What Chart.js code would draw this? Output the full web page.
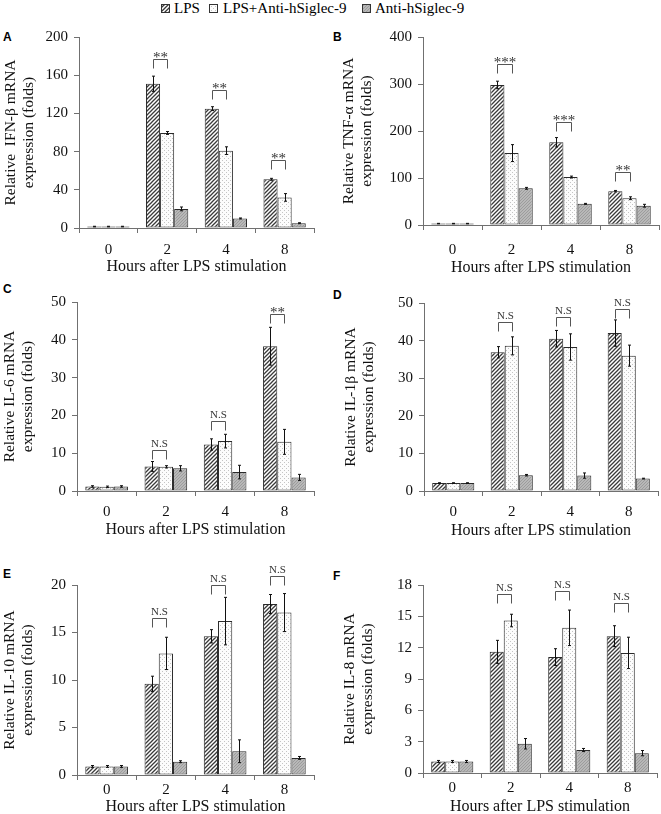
<!DOCTYPE html>
<html><head><meta charset="utf-8">
<script src="https://cdn.jsdelivr.net/npm/chart.js@4/dist/chart.umd.min.js"></script>
<style>
html,body{margin:0;padding:0;background:#fff;overflow:hidden;width:661px;height:814px;position:relative;}
canvas.cv{position:absolute;}
.plabel{position:absolute;font:bold 12px "Liberation Sans",Arial,sans-serif;color:#000;line-height:12px;}
.leg{position:absolute;top:0;height:16px;font:15px "Liberation Serif","Times New Roman",serif;line-height:16px;color:#000;white-space:nowrap;}
canvas.sw{position:absolute;top:4px;}
</style></head><body>
<canvas class="sw" id="sw0" width="9" height="9" style="left:161px"></canvas>
<div class="leg" id="lg0" style="left:174px">LPS</div>
<canvas class="sw" id="sw1" width="9" height="9" style="left:209px"></canvas>
<div class="leg" id="lg1" style="left:223px">LPS+Anti-hSiglec-9</div>
<canvas class="sw" id="sw2" width="9" height="9" style="left:362px"></canvas>
<div class="leg" id="lg2" style="left:375px">Anti-hSiglec-9</div>
<div class="plabel" style="left:3px;top:31px">A</div>
<div class="plabel" style="left:333px;top:31px">B</div>
<div class="plabel" style="left:3px;top:283px">C</div>
<div class="plabel" style="left:333px;top:289px">D</div>
<div class="plabel" style="left:3px;top:568px">E</div>
<div class="plabel" style="left:333px;top:570px">F</div>
<script>
// ---------- data ----------
const hours = ['0', '2', '4', '8'];
const seriesNames = ['LPS', 'LPS+Anti-hSiglec-9', 'Anti-hSiglec-9'];
const xTitle = 'Hours after LPS stimulation';

// A: IFN-β
const ifnLPS = [1.5, 151, 125, 51];
const ifnLPSAnti = [1.5, 99.5, 81, 32];
const ifnAnti = [1.5, 20, 10, 5];
const ifnErrLPS = [0.3, 8, 2, 1];
const ifnErrLPSAnti = [0.3, 1.5, 4, 4];
const ifnErrAnti = [0.3, 2, 0.5, 0.5];
const ifnSigLabel = ['', '**', '**', '**'];
const ifnSigY = [null, 177, 145, 71];

// B: TNF-α
const tnfLPS = [3, 298, 176, 72];
const tnfLPSAnti = [3, 153, 102, 57];
const tnfAnti = [3, 78, 45, 41];
const tnfErrLPS = [0.5, 8, 10, 1.5];
const tnfErrLPSAnti = [0.5, 18, 2, 3];
const tnfErrAnti = [0.5, 2, 1, 3];
const tnfSigLabel = ['', '***', '***', '**'];
const tnfSigY = [null, 342, 219, 112];

// C: IL-6
const il6LPS = [1.2, 6.5, 12.3, 38.3];
const il6LPSAnti = [1.1, 6.4, 13.2, 13.0];
const il6Anti = [1.2, 6.0, 5.0, 3.6];
const il6ErrLPS = [0.2, 1.3, 1.5, 5.0];
const il6ErrLPSAnti = [0.2, 0.3, 1.8, 3.3];
const il6ErrAnti = [0.2, 0.7, 1.8, 0.8];
const il6SigLabel = ['', 'N.S', 'N.S', '**'];
const il6SigY = [null, 10.8, 18.6, 46.7];

// D: IL-1β
const il1LPS = [2.1, 36.9, 40.5, 42.0];
const il1LPSAnti = [2.1, 38.6, 38.3, 36.0];
const il1Anti = [2.1, 4.2, 4.1, 3.3];
const il1ErrLPS = [0.1, 1.5, 2.2, 3.5];
const il1ErrLPSAnti = [0.1, 2.4, 3.5, 2.8];
const il1ErrAnti = [0.1, 0.2, 0.7, 0.1];
const il1SigLabel = ['', 'N.S', 'N.S', 'N.S'];
const il1SigY = [null, 45.0, 46.4, 48.3];

// E: IL-10
const il10LPS = [0.9, 9.6, 14.6, 18.0];
const il10LPSAnti = [0.9, 12.8, 16.2, 17.1];
const il10Anti = [0.9, 1.4, 2.5, 1.8];
const il10ErrLPS = [0.1, 0.8, 0.7, 1.0];
const il10ErrLPSAnti = [0.1, 1.7, 2.5, 2.0];
const il10ErrAnti = [0.1, 0.1, 1.2, 0.15];
const il10SigLabel = ['', 'N.S', 'N.S', 'N.S'];
const il10SigY = [null, 16.5, 20.0, 20.9];

// F: IL-8
const il8LPS = [1.1, 11.6, 11.1, 13.1];
const il8LPSAnti = [1.1, 14.6, 13.9, 11.5];
const il8Anti = [1.1, 2.8, 2.2, 1.9];
const il8ErrLPS = [0.1, 1.1, 0.8, 1.0];
const il8ErrLPSAnti = [0.1, 0.6, 1.7, 1.5];
const il8ErrAnti = [0.1, 0.5, 0.15, 0.25];
const il8SigLabel = ['', 'N.S', 'N.S', 'N.S'];
const il8SigY = [null, 17.1, 17.4, 16.3];

// ---------- patterns ----------
function tile(size, draw) {
  const c = document.createElement('canvas');
  c.width = size; c.height = size;
  const g = c.getContext('2d');
  draw(g, size);
  return c;
}
const hatchTile = tile(4, (g, s) => {
  g.fillStyle = '#ffffff'; g.fillRect(0, 0, s, s);
  g.strokeStyle = '#3a3a3a'; g.lineWidth = 1.3;
  g.beginPath();
  g.moveTo(0, s); g.lineTo(s, 0);
  g.moveTo(-1, 1); g.lineTo(1, -1);
  g.moveTo(s - 1, s + 1); g.lineTo(s + 1, s - 1);
  g.stroke();
});
const dotTile = tile(4, (g, s) => {
  g.fillStyle = '#fcfcfc'; g.fillRect(0, 0, s, s);
  g.fillStyle = '#c4c4c4';
  g.fillRect(0, 0, 1, 1); g.fillRect(2, 2, 1, 1);
});
const grayTile = tile(3, (g, s) => {
  g.fillStyle = '#b8b8b8'; g.fillRect(0, 0, s, s);
  g.fillStyle = '#9c9c9c';
  g.fillRect(0, 2, 1, 1); g.fillRect(1, 1, 1, 1); g.fillRect(2, 0, 1, 1);
});
function pats(ctx) {
  return [ctx.createPattern(hatchTile, 'repeat'), ctx.createPattern(dotTile, 'repeat'), ctx.createPattern(grayTile, 'repeat')];
}

// legend swatches
['sw0', 'sw1', 'sw2'].forEach((id, i) => {
  const c = document.getElementById(id); const g = c.getContext('2d');
  g.fillStyle = pats(g)[i]; g.fillRect(0, 0, 9, 9);
  g.strokeStyle = '#333'; g.lineWidth = 1; g.strokeRect(0.5, 0.5, 8, 8);
});

// ---------- plugin: error bars + significance brackets ----------
const errSigPlugin = {
  id: 'errSig',
  afterDatasetsDraw(chart) {
    const ctx = chart.ctx; const ys = chart.scales.y;
    ctx.save();
    ctx.strokeStyle = '#111'; ctx.lineWidth = 1;
    chart.data.datasets.forEach((ds, i) => {
      const meta = chart.getDatasetMeta(i);
      meta.data.forEach((bar, j) => {
        const v = ds.data[j], e = ds.errors[j];
        const x = Math.round(bar.x) + 0.5;
        const y1 = ys.getPixelForValue(v + e), y2 = ys.getPixelForValue(v - e);
        ctx.beginPath();
        ctx.moveTo(x, y1); ctx.lineTo(x, y2);
        ctx.moveTo(x - 1.5, y1); ctx.lineTo(x + 1.5, y1);
        ctx.moveTo(x - 1.5, y2); ctx.lineTo(x + 1.5, y2);
        ctx.stroke();
      });
    });
    const sig = chart.options.plugins.errSig;
    const m0 = chart.getDatasetMeta(0), m1 = chart.getDatasetMeta(1);
    ctx.strokeStyle = '#555';
    sig.labels.forEach((lab, j) => {
      if (!lab) return;
      const xa = Math.round(m0.data[j].x) + 0.5, xb = Math.round(m1.data[j].x) + 0.5;
      const yt = Math.round(ys.getPixelForValue(sig.y[j])) + 0.5;
      ctx.beginPath();
      ctx.moveTo(xa, yt + 9); ctx.lineTo(xa, yt); ctx.lineTo(xb, yt); ctx.lineTo(xb, yt + 9);
      ctx.stroke();
      const star = lab.indexOf('*') >= 0;
      ctx.fillStyle = '#333';
      ctx.font = star ? '15px "Liberation Serif"' : '11px "Liberation Serif"';
      ctx.textAlign = 'center'; ctx.textBaseline = 'alphabetic';
      ctx.fillText(lab, (xa + xb) / 2, star ? yt + 2 : yt - 4);
    });
    ctx.restore();
  }
};

Chart.defaults.font.family = '"Liberation Serif", "Times New Roman", serif';
Chart.defaults.color = '#111';

const panels = [
  { v: [ifnLPS, ifnLPSAnti, ifnAnti], e: [ifnErrLPS, ifnErrLPSAnti, ifnErrAnti], sl: ifnSigLabel, sy: ifnSigY,
    yt: ['Relative  IFN-\u03b2 mRNA', 'expression (folds)'], max: 200, step: 40,
    cv: [0, 22, 330, 258], area: [79, 35.5, 314, 228], ytx: 11, lab: 250, tit: 267 },
  { v: [tnfLPS, tnfLPSAnti, tnfAnti], e: [tnfErrLPS, tnfErrLPSAnti, tnfErrAnti], sl: tnfSigLabel, sy: tnfSigY,
    yt: ['Relative TNF-\u03b1 mRNA', 'expression (folds)'], max: 400, step: 100,
    cv: [330, 22, 331, 258], area: [423, 37, 659, 225], ytx: 349, lab: 250, tit: 267.5 },
  { v: [il6LPS, il6LPSAnti, il6Anti], e: [il6ErrLPS, il6ErrLPSAnti, il6ErrAnti], sl: il6SigLabel, sy: il6SigY,
    yt: ['Relative IL-6 mRNA', 'expression (folds)'], max: 50, step: 10,
    cv: [0, 282, 330, 260], area: [77, 302, 314, 491], ytx: 9.5, lab: 512, tit: 530 },
  { v: [il1LPS, il1LPSAnti, il1Anti], e: [il1ErrLPS, il1ErrLPSAnti, il1ErrAnti], sl: il1SigLabel, sy: il1SigY,
    yt: ['Relative IL-1\u03b2 mRNA', 'expression (folds)'], max: 50, step: 10,
    cv: [330, 282, 331, 260], area: [424, 303, 658, 491], ytx: 351, lab: 512.5, tit: 531 },
  { v: [il10LPS, il10LPSAnti, il10Anti], e: [il10ErrLPS, il10ErrLPSAnti, il10ErrAnti], sl: il10SigLabel, sy: il10SigY,
    yt: ['Relative IL-10 mRNA', 'expression (folds)'], max: 20, step: 5,
    cv: [0, 545, 330, 274], area: [77, 585, 314, 775], ytx: 9.5, lab: 790, tit: 807 },
  { v: [il8LPS, il8LPSAnti, il8Anti], e: [il8ErrLPS, il8ErrLPSAnti, il8ErrAnti], sl: il8SigLabel, sy: il8SigY,
    yt: ['Relative IL-8 mRNA', 'expression (folds)'], max: 18, step: 3,
    cv: [330, 545, 331, 274], area: [423, 585, 657, 773], ytx: 350, lab: 788, tit: 807 }
];

const TICK_FS = 15, TICK_LH = 18, TITLE_FS = 16, TITLE_LH = 18.4, YTITLE_FS = 15.5;
const axisColor = '#707070';

panels.forEach((p) => {
  const [cx, cy, cw, ch] = p.cv;
  const [l, t, r, b] = p.area;
  const c = document.createElement('canvas');
  c.className = 'cv'; c.width = cw; c.height = ch;
  c.style.left = cx + 'px'; c.style.top = cy + 'px';
  c.style.width = cw + 'px'; c.style.height = ch + 'px';
  document.body.appendChild(c);
  const ctx = c.getContext('2d');
  const fills = pats(ctx);
  const yWidth = l - cx;
  const xHeight = (cy + ch) - b;
  const labPad = p.lab - b - 5 - TICK_LH / 2;
  const titPadB = (cy + ch) - p.tit - TITLE_LH / 2;
  const ytPad = p.ytx - cx - TITLE_LH / 2;
  new Chart(ctx, {
    type: 'bar',
    data: {
      labels: hours,
      datasets: seriesNames.map((n, i) => ({
        label: n, data: p.v[i], errors: p.e[i],
        backgroundColor: fills[i], borderColor: '#2a2a2a', borderWidth: 1, borderSkipped: false,
        categoryPercentage: 0.72, barPercentage: 1.0
      }))
    },
    options: {
      responsive: false, animation: false, devicePixelRatio: 1,
      layout: { padding: { left: 0, top: t - cy, right: (cx + cw) - r, bottom: 0 } },
      plugins: {
        legend: { display: false }, tooltip: { enabled: false },
        errSig: { labels: p.sl, y: p.sy }
      },
      scales: {
        x: {
          type: 'category', offset: true,
          grid: { display: true, offset: true, drawOnChartArea: false, drawTicks: true, tickLength: 5, color: axisColor },
          border: { display: true, color: axisColor, width: 1 },
          ticks: { font: { size: TICK_FS, lineHeight: TICK_LH / TICK_FS }, padding: labPad, color: '#111', maxRotation: 0 },
          title: { display: true, text: xTitle, font: { size: TITLE_FS, lineHeight: TITLE_LH / TITLE_FS }, padding: { top: 0, bottom: titPadB }, color: '#111' },
          afterFit(s) { s.height = xHeight; }
        },
        y: {
          min: 0, max: p.max,
          grid: { display: true, drawOnChartArea: false, drawTicks: true, tickLength: 5, color: axisColor },
          border: { display: true, color: axisColor, width: 1 },
          ticks: { stepSize: p.step, font: { size: TICK_FS, lineHeight: TICK_LH / TICK_FS }, padding: 6, color: '#111' },
          title: { display: true, text: p.yt, font: { size: YTITLE_FS, lineHeight: TITLE_LH / YTITLE_FS }, padding: { top: ytPad, bottom: 0 }, color: '#111' },
          afterFit(s) { s.width = yWidth; }
        }
      }
    },
    plugins: [errSigPlugin]
  });
});
</script>
</body></html>
